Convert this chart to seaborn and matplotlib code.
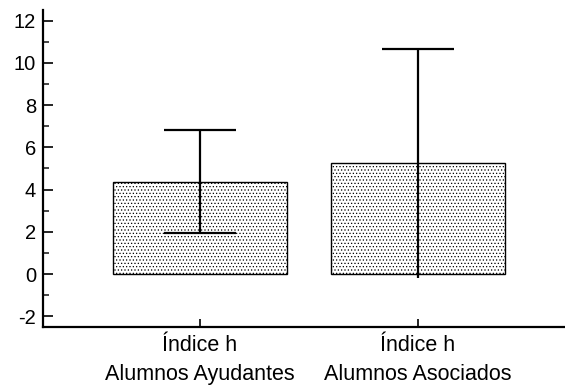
import matplotlib
matplotlib.use("Agg")
import matplotlib.pyplot as plt
import seaborn as sns
import pandas as pd
import numpy as np
from matplotlib.ticker import MultipleLocator

categories = ["Índice h\nAlumnos Ayudantes", "Índice h\nAlumnos Asociados"]
means = [4.38, 5.24]
errors = [2.43, 5.40]
upper_caps = [True, True]
lower_caps = [True, False]
yticks = [-2, 0, 2, 4, 6, 8, 10, 12]

sns.set_theme(style="white")
plt.rcParams['font.family'] = ['Liberation Sans', 'DejaVu Sans']
plt.rcParams['hatch.linewidth'] = 0.5
plt.rcParams['hatch.color'] = 'black'

df = pd.DataFrame({"cat": categories, "val": means})

fig = plt.figure(figsize=(5.65, 3.87), dpi=100)
ax = fig.add_axes([43/565, 1-327/387, 1-43/565, (327-10)/387])

sns.barplot(data=df, x="cat", y="val", ax=ax, color="white", edgecolor="black",
            linewidth=1.0, width=0.8, errorbar=None)
for p in ax.patches:
    p.set_facecolor("white")
    p.set_hatch(".....")

x = np.arange(len(categories))
ax.errorbar(x, means, yerr=errors, fmt="none", ecolor="black", elinewidth=1.6, capsize=0)
for i in range(len(categories)):
    if upper_caps[i]:
        ax.plot([x[i]], [means[i] + errors[i]], marker="_", markersize=52,
                markeredgewidth=1.6, color="black")
    if lower_caps[i]:
        ax.plot([x[i]], [means[i] - errors[i]], marker="_", markersize=52,
                markeredgewidth=1.6, color="black")

ax.set_xlim(-0.72, 1.674)
ax.set_ylim(-2.5, 12.5)
ax.set_yticks(yticks)
ax.set_yticklabels([str(v) for v in yticks])
ax.yaxis.set_minor_locator(MultipleLocator(1))
ax.set_xlabel("")
ax.set_ylabel("")

for s in ["top", "right"]:
    ax.spines[s].set_visible(False)
for s in ["left", "bottom"]:
    ax.spines[s].set_color("black")
    ax.spines[s].set_linewidth(1.6)

ax.tick_params(axis="y", which="major", direction="in", length=7.5, width=1.2,
               labelsize=14.5, pad=5, colors="black", left=True)
ax.tick_params(axis="y", which="minor", direction="in", length=4.3, width=1.2, left=True)
ax.tick_params(axis="x", which="major", direction="in", length=6, width=1.2,
               labelsize=15.5, pad=6, colors="black", bottom=True)
for lbl in ax.get_xticklabels():
    lbl.set_linespacing(1.45)

fig.savefig("out.png", dpi=100)
